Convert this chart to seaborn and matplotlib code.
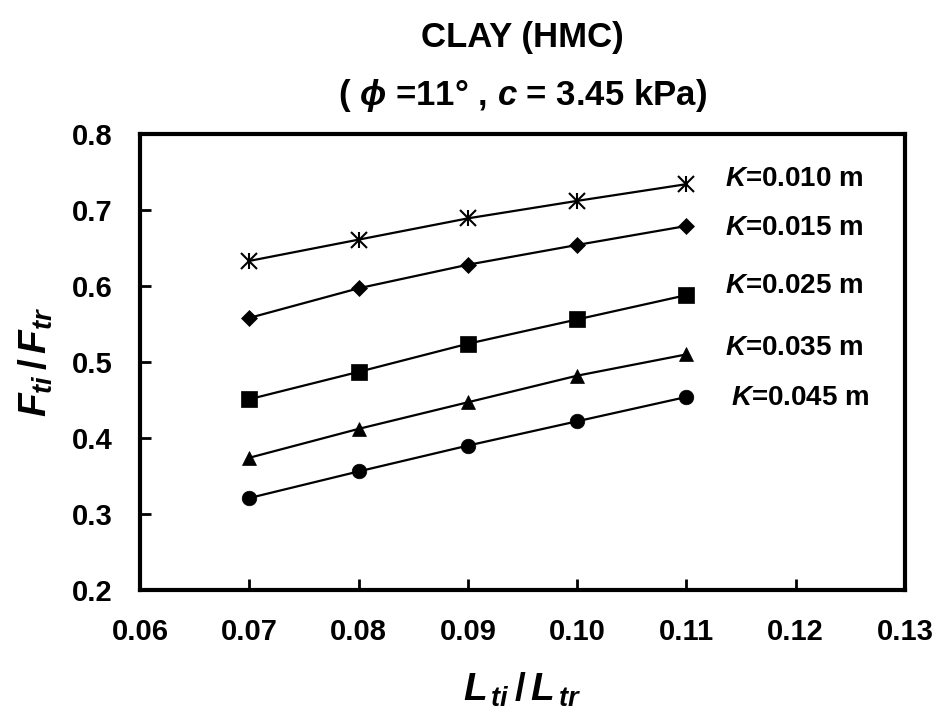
import matplotlib
matplotlib.use("Agg")
import matplotlib.pyplot as plt
import seaborn as sns
import numpy as np

# ---- data ----
x_vals = [0.07, 0.08, 0.09, 0.10, 0.11]
k010 = [0.633, 0.661, 0.689, 0.712, 0.734]
k015 = [0.558, 0.597, 0.628, 0.654, 0.679]
k025 = [0.451, 0.487, 0.524, 0.556, 0.588]
k035 = [0.374, 0.412, 0.447, 0.482, 0.510]
k045 = [0.321, 0.356, 0.390, 0.422, 0.454]
series_labels = ["0.010", "0.015", "0.025", "0.035", "0.045"]
label_y = [0.741, 0.676, 0.600, 0.518, 0.453]
x_ticks = [0.06, 0.07, 0.08, 0.09, 0.10, 0.11, 0.12, 0.13]
y_ticks = [0.2, 0.3, 0.4, 0.5, 0.6, 0.7, 0.8]

sns.set_theme(style="white")
plt.rcParams['font.family'] = ['Liberation Sans', 'DejaVu Sans']
plt.rcParams['font.weight'] = 'bold'
plt.rcParams['text.color'] = 'black'
plt.rcParams['axes.labelcolor'] = 'black'
plt.rcParams['xtick.color'] = 'black'
plt.rcParams['ytick.color'] = 'black'
plt.rcParams['mathtext.fontset'] = 'custom'
plt.rcParams['mathtext.it'] = 'Liberation Sans:bold:italic'
plt.rcParams['mathtext.rm'] = 'Liberation Sans:bold'
plt.rcParams['mathtext.bf'] = 'Liberation Sans:bold'

fig = plt.figure(figsize=(9.44, 7.2), dpi=100)
ax = fig.add_axes([140/944, 1-590/720, (905-140)/944, (590-134)/720])

series = [k010, k015, k025, k035, k045]
markers = ['x', 'D', 's', '^', 'o']
msizes = [11, 8.5, 11, 10.5, 10.5]
for vals, m, ms in zip(series, markers, msizes):
    sns.lineplot(x=x_vals, y=vals, ax=ax, color='black', linewidth=1.6,
                 marker=m, markersize=ms, markeredgecolor='black',
                 markerfacecolor='black', markeredgewidth=1.5 if m == 'x' else 0.5)
# vertical bar to complete the asterisk markers
sns.scatterplot(x=x_vals, y=k010, ax=ax, marker='|', s=140, color='black',
                linewidth=1.5, legend=False)

for lab, ly, dx in zip(series_labels, label_y, [0, 0, 0, 0, 0.0006]):
    ax.text(0.1135 + dx, ly, r"$K$" + "=" + lab + " m", fontsize=20,
            fontweight='bold', va='center', ha='left', color='black')

ax.set_xlim(0.06, 0.13)
ax.set_ylim(0.2, 0.8)
ax.set_xticks(x_ticks)
ax.set_yticks(y_ticks)
ax.set_xticklabels([f"{t:.2f}" for t in x_ticks], fontsize=21, fontweight='bold')
ax.set_yticklabels([f"{t:.1f}" for t in y_ticks], fontsize=21, fontweight='bold')
ax.tick_params(axis='both', direction='in', length=8, width=2, colors='black',
               left=True, bottom=True)
ax.tick_params(axis='x', pad=20)
ax.tick_params(axis='y', pad=20)
for sp in ax.spines.values():
    sp.set_linewidth(3)
    sp.set_color('black')

ax.set_xlabel(r"$L_{\,ti}\,/\,L_{\,tr}$", fontsize=28, labelpad=18, color='black')
ax.set_ylabel(r"$F_{ti}\,/\,F_{tr}$", fontsize=28, labelpad=12, color='black')

cx = (140 + 905) / 2 / 944
fig.text(cx, 1 - 38/720, "CLAY (HMC)", ha='center', va='center',
         fontsize=25, fontweight='bold', color='black')
fig.text(cx, 1 - 95/720, r"( $\phi$ =11° , $c$ = 3.45 kPa)", ha='center',
         va='center', fontsize=25, fontweight='bold', color='black')

fig.savefig("out.png", dpi=100)
